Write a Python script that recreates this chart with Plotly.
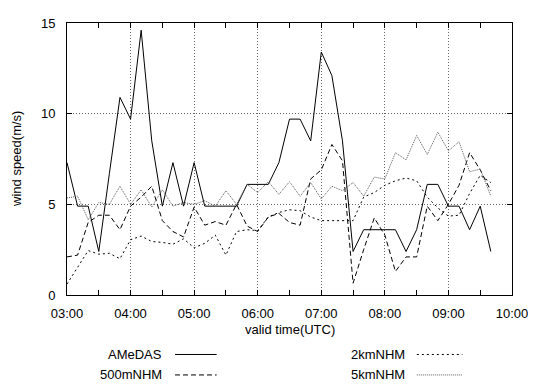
import pandas as pd
import plotly.graph_objects as go

# 10-minute valid times 03:00 .. 09:40 (UTC)
times = pd.date_range("2000-01-01 03:00", "2000-01-01 09:40", freq="10min")

amedas = [7.3, 4.9, 4.9, 2.4, 6.7, 10.9, 9.7, 14.6, 8.5, 4.9,
          7.3, 4.9, 7.3, 4.9, 4.9, 4.9, 4.9, 6.1, 6.1, 6.1,
          7.3, 9.7, 9.7, 8.5, 13.4, 12.1, 8.5, 2.4, 3.6, 3.6,
          3.6, 3.6, 2.4, 3.6, 6.1, 6.1, 4.9, 4.9, 3.6, 4.9, 2.4]

nhm500m = [2.1, 2.2, 4.0, 4.4, 4.4, 3.6, 4.9, 5.4, 6.0, 4.1,
           3.5, 3.2, 4.85, 3.85, 4.05, 3.85, 5.0, 3.8, 3.5, 4.3,
           4.5, 4.0, 3.85, 6.4, 6.9, 8.3, 7.4, 0.65, 2.5, 4.25,
           3.3, 1.3, 2.1, 2.1, 4.9, 4.1, 5.0, 6.05, 7.85, 6.9, 5.75]

nhm2km = [0.6, 1.5, 2.45, 2.25, 2.3, 2.0, 3.05, 3.25, 2.95, 2.9,
          2.8, 3.1, 2.6, 2.85, 3.3, 2.2, 3.5, 3.6, 3.55, 4.3,
          4.55, 4.7, 4.65, 4.3, 4.1, 4.1, 4.1, 4.1, 5.4, 5.65,
          6.05, 6.3, 6.45, 6.3, 5.4, 4.8, 4.35, 4.4, 5.6, 6.6, 6.2]

nhm5km = [5.35, 5.45, 4.15, 5.1, 5.0, 6.0, 5.0, 5.8, 4.85, 5.8,
          4.9, 5.1, 5.0, 5.2, 4.9, 5.75, 5.0, 6.1, 5.65, 6.25,
          5.55, 6.25, 5.45, 6.2, 5.3, 6.0, 5.75, 6.2, 5.45, 6.5,
          6.4, 7.85, 7.45, 8.8, 7.75, 8.98, 7.95, 8.45, 6.8, 6.95, 5.45]

series_names = ["AMeDAS", "500mNHM", "2kmNHM", "5kmNHM"]
x_tick_labels = ["03:00", "04:00", "05:00", "06:00", "07:00", "08:00", "09:00", "10:00"]
y_ticks = [0, 5, 10, 15]

FONT = "Liberation Sans, Arial, sans-serif"
styles = [
    dict(color="black", width=1, dash="solid"),
    dict(color="black", width=1, dash="5px,3px"),
    dict(color="black", width=1, dash="2px,3px"),
    dict(color="#5a5a5a", width=1, dash="1px,1px"),
]

fig = go.Figure()
for name, ys, st in zip(series_names, [amedas, nhm500m, nhm2km, nhm5km], styles):
    fig.add_trace(go.Scatter(x=times, y=ys, mode="lines", name=name, line=st,
                             showlegend=False))

# the page body adds an 8px offset; compensate so the plot lands where the reference has it
OFF = 8
W, H = 536 - OFF, 387 - OFF
L, R, T, B = 67 - OFF, 20, 16 - OFF, 92
pw, ph = W - L - R, H - T - B

def px(x):
    return (x - OFF - L) / pw

def py(y):
    return (H - B - (y - OFF)) / ph

tickvals = pd.to_datetime(["2000-01-01 " + t for t in x_tick_labels])

fig.update_layout(
    width=W, height=H,
    margin=dict(l=L, r=R, t=T, b=B),
    paper_bgcolor="white", plot_bgcolor="white",
    font=dict(family=FONT, size=13, color="black"),
    xaxis=dict(
        range=[pd.Timestamp("2000-01-01 03:00"), pd.Timestamp("2000-01-01 10:00")],
        tickvals=tickvals, ticktext=x_tick_labels,
        ticks="inside", ticklen=5, tickcolor="black", tickwidth=1,
        minor=dict(dtick=30 * 60 * 1000, ticks="inside", ticklen=5,
                   tickcolor="black", showgrid=False),
        showgrid=True, gridcolor="#666666", griddash="1px,2px", gridwidth=1,
        showline=True, linecolor="black", linewidth=1, mirror="ticks",
        zeroline=False, ticklabelstandoff=6,
    ),
    yaxis=dict(
        range=[0, 15], tickvals=y_ticks,
        ticks="inside", ticklen=5, tickcolor="black", tickwidth=1,
        showgrid=True, gridcolor="#666666", griddash="1px,2px", gridwidth=1,
        showline=True, linecolor="black", linewidth=1, mirror="ticks",
        zeroline=False, ticklabelstandoff=8,
    ),
)

ann = []
ann.append(dict(text="valid time(UTC)", x=px(292), y=py(330), xref="paper", yref="paper",
                showarrow=False, xanchor="center", yanchor="middle"))
ann.append(dict(text="wind speed(m/s)", x=px(16), y=py(155), xref="paper", yref="paper",
                showarrow=False, xanchor="center", yanchor="middle", textangle=-90))

legend_pos = [(165, 176, 218, 356), (165, 176, 218, 377), (410, 420, 466, 356), (410, 420, 466, 377)]
shapes = []
for i, (tx, s0, s1, yy) in enumerate(legend_pos):
    ann.append(dict(text=series_names[i], x=px(tx), y=py(yy), xref="paper", yref="paper",
                    showarrow=False, xanchor="right", yanchor="middle"))
    shapes.append(dict(type="line", xref="paper", yref="paper",
                       x0=px(s0), x1=px(s1), y0=py(yy), y1=py(yy),
                       line=styles[i]))
fig.update_layout(annotations=ann, shapes=shapes)

fig.write_html("out.html")
